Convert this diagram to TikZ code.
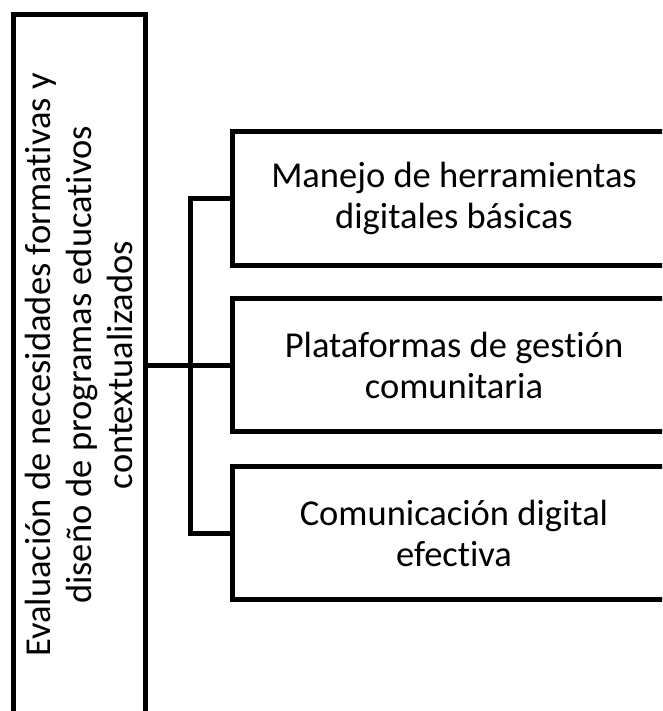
\documentclass[tikz,border=0pt]{standalone}
\usepackage{fontspec}
\setmainfont{Carlito}[Ligatures=NoCommon]
\begin{document}
\begin{tikzpicture}[x=1pt,y=-1pt,
  box/.style={draw=black, line width=5pt, fill=white, inner sep=0pt, align=center,
    font=\fontsize{36.5}{41}\selectfont},
  rbox/.style={box, minimum width=444pt, minimum height=133pt},
  conn/.style={draw=black, line width=5pt}]
\useasboundingbox (0,0) rectangle (662,711);
\clip (0,0) rectangle (662,711);
\node[box, rotate=90, minimum width=700pt, minimum height=132pt] (L) at (79,365)
  {Evaluación de necesidades formativas y\\diseño de programas educativos\\contextualizados};
\node[rbox] (R1) at (454,198.5) {Manejo de herramientas\\digitales básicas};
\node[rbox] (R2) at (454,365) {Plataformas de gestión\\comunitaria};
\node[rbox] (R3) at (454,533) {Comunicación digital\\efectiva};
\coordinate (b) at (190,365);
\draw[conn] (L.south) -- (R2.west);
\draw[conn] (R1.west) -- (R1.west -| b) -- (R3.west -| b) -- (R3.west);
\end{tikzpicture}
\end{document}
